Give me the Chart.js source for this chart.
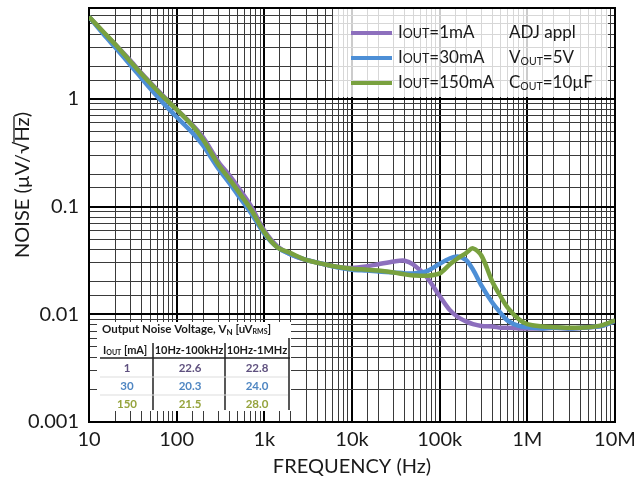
<!DOCTYPE html>
<html>
<head>
<meta charset="utf-8">
<script src="https://cdn.jsdelivr.net/npm/chart.js@4"></script>
<style>
  html, body { margin: 0; padding: 0; background: #fff; }
  #chart { display: block; }
</style>
</head>
<body>
<canvas id="chart" width="642" height="482"></canvas>
<script>
// Output noise spectral density vs frequency, three load currents
const freq = [10, 15, 20, 30, 40, 50, 70, 100, 150, 200, 300, 400, 500, 700,
  1000, 1400, 2000, 3000, 5000, 7000, 10000, 15000, 20000, 30000, 40000, 50000,
  70000, 100000, 130000, 160000, 200000, 240000, 300000, 400000, 500000, 600000,
  800000, 1000000, 1500000, 2000000, 3000000, 5000000, 7000000, 10000000];

const noise1mA = [5.8, 4.05, 3.2, 2.25, 1.72, 1.42, 1.07, 0.8, 0.58, 0.44, 0.26, 0.195, 0.152, 0.102,
  0.06, 0.043, 0.036, 0.032, 0.029, 0.0275, 0.027, 0.028, 0.0292, 0.031, 0.0315, 0.029,
  0.0225, 0.0148, 0.011, 0.0095, 0.0086, 0.0081, 0.0078, 0.0077, 0.0075, 0.0075,
  0.0074, 0.0074, 0.0074, 0.0075, 0.0074, 0.0076, 0.0078, 0.0087];

const noise30mA = [5.8, 3.9, 3.0, 2.05, 1.55, 1.25, 0.92, 0.68, 0.49, 0.37, 0.225, 0.165, 0.128, 0.088,
  0.056, 0.042, 0.036, 0.032, 0.029, 0.0272, 0.026, 0.0255, 0.025, 0.0245, 0.024, 0.024,
  0.025, 0.0295, 0.033, 0.0345, 0.032, 0.026, 0.0185, 0.0128, 0.0102, 0.0087,
  0.0078, 0.0076, 0.0074, 0.0075, 0.0074, 0.0076, 0.0078, 0.0087];

const noise150mA = [5.8, 4.1, 3.2, 2.2, 1.7, 1.4, 1.05, 0.8, 0.57, 0.42, 0.245, 0.18, 0.14, 0.095,
  0.058, 0.042, 0.037, 0.032, 0.029, 0.0275, 0.0265, 0.026, 0.0255, 0.0245, 0.0235, 0.023,
  0.0228, 0.024, 0.029, 0.033, 0.037, 0.041, 0.035, 0.02, 0.0145, 0.0115,
  0.009, 0.0081, 0.0077, 0.0076, 0.0075, 0.0076, 0.0079, 0.0088];

const loadLabels = ['1mA', '30mA', '150mA'];
const lineColors = ['#8d6fbd', '#4d8fd6', '#79a13f'];

// inset table: integrated noise in uVrms
const tableIout = ['1', '30', '150'];
const vn100k = ['22.6', '20.3', '21.5'];
const vn1M = ['22.8', '24.0', '28.0'];
const tableColors = ['#5f517f', '#4f86c2', '#95a33c'];

const xTickText = { 1: '10', 2: '100', 3: '1k', 4: '10k', 5: '100k', 6: '1M', 7: '10M' };

const FONT = 'Lato, "Open Sans", sans-serif';
const TEXT = '#1a1a1a';

function isDecade(v) {
  const l = Math.log10(v);
  return Math.abs(l - Math.round(l)) < 1e-6;
}

// draw a run of text pieces: [text, size, dy]
function drawRich(ctx, parts, x, y, weight, color) {
  ctx.fillStyle = color;
  ctx.textBaseline = 'middle';
  ctx.textAlign = 'left';
  parts.forEach(([t, size, dy]) => {
    ctx.font = `${weight} ${size}px ${FONT}`;
    ctx.fillText(t, x, y + (dy || 0));
    x += ctx.measureText(t).width;
  });
  return x;
}

const extras = {
  id: 'extras',
  beforeDatasetsDraw(chart) {
    const { ctx, chartArea: a } = chart;
    ctx.save();
    ctx.strokeStyle = '#000';
    ctx.lineWidth = 2;
    ctx.strokeRect(a.left, a.top, a.right - a.left, a.bottom - a.top);
    ctx.restore();
  },
  afterDraw(chart) {
    const ctx = chart.ctx;
    ctx.save();

    // y axis title, with the bar over Hz under the root sign
    ctx.translate(23, 185);
    ctx.rotate(-Math.PI / 2);
    ctx.font = `20px ${FONT}`;
    ctx.fillStyle = TEXT;
    ctx.textBaseline = 'middle';
    const head = 'NOISE (\u00b5V/\u221a';
    const full = head + 'Hz)';
    const w = ctx.measureText(full).width;
    const x0 = -w / 2;
    ctx.fillText(full, x0, 0);
    const hx = x0 + ctx.measureText(head).width;
    const hw = ctx.measureText('Hz').width;
    ctx.strokeStyle = TEXT;
    ctx.lineWidth = 1.3;
    ctx.beginPath();
    ctx.moveTo(hx - 1, -9);
    ctx.lineTo(hx + hw + 1, -9);
    ctx.stroke();
    ctx.setTransform(1, 0, 0, 1, 0, 0);

    // legend panel
    ctx.fillStyle = 'rgba(255,255,255,0.8)';
    ctx.fillRect(333, 9, 275, 88);
    const rows = [33, 58, 83];
    chart.data.datasets.forEach((ds, i) => {
      ctx.strokeStyle = ds.borderColor;
      ctx.lineWidth = 4;
      ctx.beginPath();
      ctx.moveTo(351, rows[i]);
      ctx.lineTo(392, rows[i]);
      ctx.stroke();
      drawRich(ctx, [['I', 17], ['OUT', 12.5, 1], ['=' + loadLabels[i], 17]], 398, rows[i], 'normal', TEXT);
    });
    drawRich(ctx, [['ADJ appl', 17]], 509, rows[0], 'normal', TEXT);
    drawRich(ctx, [['V', 17], ['OUT', 10.5, 4], ['=5V', 17]], 509, rows[1], 'normal', TEXT);
    drawRich(ctx, [['C', 17], ['OUT', 10.5, 4], ['=10\u00b5F', 17]], 509, rows[2], 'normal', TEXT);

    // inset table
    ctx.fillStyle = '#fff';
    ctx.fillRect(97, 322, 194, 89);
    drawRich(ctx, [['Output Noise Voltage, V', 11.5], ['N', 8, 3], [' [uV', 11.5], ['RMS', 7, 3], [']', 11.5]],
      102, 329, 'bold', TEXT);
    drawRich(ctx, [['I', 11], ['OUT', 7, 3], [' [mA]', 11]], 103, 350, 'bold', TEXT);
    ctx.font = `bold 11px ${FONT}`;
    ctx.textAlign = 'center';
    ctx.fillText('10Hz-100kHz', 189, 350);
    ctx.fillText('10Hz-1MHz', 257, 350);

    ctx.strokeStyle = '#222';
    ctx.lineWidth = 1.5;
    ctx.beginPath();
    ctx.moveTo(100, 358); ctx.lineTo(290, 358);
    ctx.moveTo(153, 343); ctx.lineTo(153, 410);
    ctx.moveTo(225, 343); ctx.lineTo(225, 410);
    ctx.moveTo(289, 338); ctx.lineTo(289, 410);
    ctx.stroke();
    ctx.strokeStyle = '#ddd';
    ctx.lineWidth = 1;
    ctx.beginPath();
    ctx.moveTo(100, 377); ctx.lineTo(288, 377);
    ctx.moveTo(100, 395); ctx.lineTo(288, 395);
    ctx.stroke();

    ctx.font = `bold 11.5px ${FONT}`;
    ctx.textAlign = 'center';
    ctx.textBaseline = 'middle';
    tableIout.forEach((v, i) => {
      const y = 368 + i * 18;
      ctx.fillStyle = tableColors[i];
      ctx.fillText(v, 127, y);
      ctx.fillText(vn100k[i], 190, y);
      ctx.fillText(vn1M[i], 257, y);
    });
    ctx.restore();
  }
};

function series(values) {
  return freq.map((f, i) => ({ x: f, y: values[i] }));
}

const ctx = document.getElementById('chart').getContext('2d');
const gridColor = c => (c.tick && isDecade(c.tick.value) ? '#000' : '#3a3a3a');
const gridWidth = c => (c.tick && isDecade(c.tick.value) ? 2 : 1);

// 150mA drawn last, on top
new Chart(ctx, {
  type: 'line',
  data: {
    datasets: [
      { label: loadLabels[0], data: series(noise1mA), borderColor: lineColors[0], order: 3 },
      { label: loadLabels[1], data: series(noise30mA), borderColor: lineColors[1], order: 2 },
      { label: loadLabels[2], data: series(noise150mA), borderColor: lineColors[2], order: 1 }
    ].map(d => Object.assign(d, { borderWidth: 4.5, pointRadius: 0, tension: 0.3, fill: false }))
  },
  options: {
    responsive: false,
    animation: false,
    layout: { padding: { top: 8, right: 27, left: 0, bottom: 0 } },
    plugins: { legend: { display: false }, tooltip: { enabled: false } },
    scales: {
      x: {
        type: 'logarithmic',
        min: 10,
        max: 10000000,
        afterFit: s => { s.height = 60; s.paddingLeft = 0; s.paddingRight = 0; },
        grid: { color: gridColor, lineWidth: gridWidth, drawTicks: false },
        border: { display: false },
        ticks: {
          autoSkip: false,
          maxRotation: 0,
          padding: 6,
          color: TEXT,
          font: { family: FONT, size: 20 },
          callback: v => (isDecade(v) ? xTickText[Math.round(Math.log10(v))] : '')
        },
        title: {
          display: true,
          text: 'FREQUENCY (Hz)',
          color: TEXT,
          font: { family: FONT, size: 20 },
          padding: { top: 0, bottom: 3 }
        }
      },
      y: {
        type: 'logarithmic',
        min: 0.001,
        max: 7,
        afterFit: s => { s.width = 89; s.paddingTop = 0; s.paddingBottom = 0; },
        grid: { color: gridColor, lineWidth: gridWidth, drawTicks: false },
        border: { display: false },
        ticks: {
          autoSkip: false,
          padding: 10,
          color: TEXT,
          font: { family: FONT, size: 20 },
          callback: v => (isDecade(v) ? String(+v.toPrecision(1)) : '')
        }
      }
    }
  },
  plugins: [extras]
});
</script>
</body>
</html>
